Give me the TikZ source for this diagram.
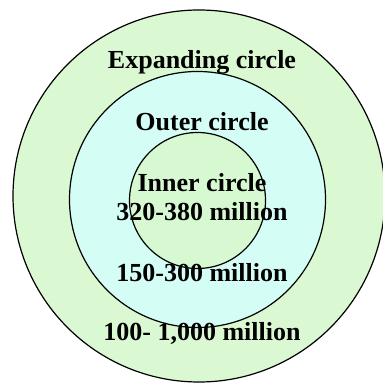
\documentclass[tikz,border=0pt]{standalone}
\usepackage{fontspec}
\setmainfont{Liberation Serif}
\definecolor{ringgreen}{HTML}{DAF8D2}
\definecolor{ringcyan}{HTML}{D4FDF6}
\definecolor{coregreen}{HTML}{D6F9D2}
\tikzset{
  ring/.style={draw=black, line width=0.6pt},
  lbl/.style={font=\bfseries\fontsize{13}{15}\selectfont, inner sep=0pt, anchor=center}
}
\begin{document}
\begin{tikzpicture}[x=0.5pt,y=-0.5pt]
\useasboundingbox (0,0) rectangle (383,383);
\clip (0,0) rectangle (383,383);
\fill[white] (0,0) rectangle (383,383);
\draw[ring, fill=ringgreen] (199,196) circle [radius=186];
\draw[ring, fill=ringcyan] (197.5,199.5) circle [radius=128];
\draw[ring, fill=coregreen] (197.5,200.5) circle [radius=68];
\node[lbl] (expanding) at (202,62) {Expanding circle};
\node[lbl] (outer) at (202,122) {Outer circle};
\node[lbl] (inner) at (202,183) {Inner circle};
\node[lbl] (innernum) at (202,212) {320-380 million};
\node[lbl] (outernum) at (202,273) {150-300 million};
\node[lbl] (expnum) at (202,333) {100- 1,000 million};
\end{tikzpicture}
\end{document}
